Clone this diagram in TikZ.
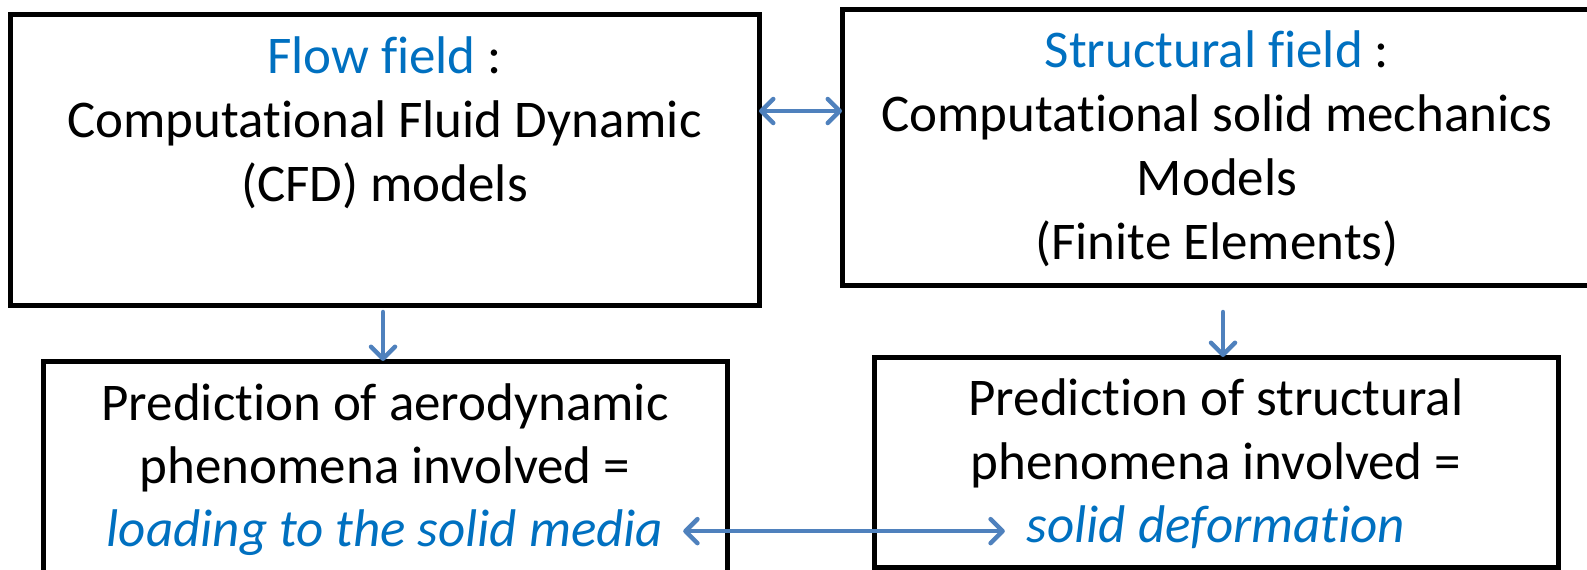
\documentclass[tikz,border=0pt]{standalone}
\usepackage{fontspec}
\setmainfont[Ligatures=NoCommon]{Carlito}
\usetikzlibrary{arrows.meta}
\definecolor{txtblue}{HTML}{0070C0}
\definecolor{arrblue}{HTML}{4F81BD}
\begin{document}
\begin{tikzpicture}[x=1pt,y=-1pt,
  box/.style={draw=black, line width=5pt, rectangle, inner sep=0pt, outer sep=0pt},
  txt/.style={anchor=base, inner sep=0pt, outer sep=0pt, font=\fontsize{53}{63}\selectfont},
  blu/.style={txt, text=txtblue},
  tipb/.tip={Straight Barb[length=12pt,width=24pt,round]},
  arr/.style={draw=arrblue, line width=4.5pt, line cap=round},
]
\useasboundingbox (0,0) rectangle (1587,570);
% boxes
\node[box, minimum width=749pt, minimum height=291pt] (b1) at (384.5,159.5) {};
\node[box, minimum width=750pt, minimum height=276pt] (b2) at (1217,147) {};
\node[box, minimum width=684pt, minimum height=219pt] (b3) at (385,470.5) {};
\node[box, minimum width=684pt, minimum height=210pt] (b4) at (1216,462) {};
% box 1 text
\node[txt] (t11) at (384.5,73) {\textcolor{txtblue}{Flow field} :};
\node[txt] (t12) at (384.5,137) {Computational Fluid Dynamic};
\node[txt] (t13) at (384.5,201) {(CFD) models};
% box 2 text
\node[txt] (t21) at (1217,67) {\textcolor{txtblue}{Structural field} :};
\node[txt] (t22) at (1217,131) {Computational solid mechanics};
\node[txt] (t23) at (1217,195) {Models};
\node[txt] (t24) at (1217,259) {(Finite Elements)};
% box 3 text
\node[txt] (t31) at (385,420) {Prediction of aerodynamic};
\node[txt] (t32) at (385,483) {phenomena involved =};
\node[blu] (t33) at (385,546) {\itshape loading to the solid media};
% box 4 text
\node[txt] (t41) at (1216,415) {Prediction of structural};
\node[txt] (t42) at (1216,479) {phenomena involved =};
\node[blu] (t43) at (1216,542) {\itshape solid deformation};
% connectors
\coordinate (ty) at (800,111);
\draw[arr, tipb-tipb] (b1.east |- ty) -- (b2.west |- ty);
\draw[arr, -tipb, shorten <=7pt] ([xshift=-1.5pt]b1.south) -- ([xshift=-1.5pt]b1.south |- b3.north);
\draw[arr, -tipb, shorten <=27pt] ([xshift=6pt]b2.south) -- ([xshift=6pt]b2.south |- b4.north);
\draw[arr, tipb-tipb, shorten <=20pt, shorten >=22pt] ([yshift=1pt]t33.east) -- ([yshift=1pt]t33.east -| t43.west);
\end{tikzpicture}
\end{document}
